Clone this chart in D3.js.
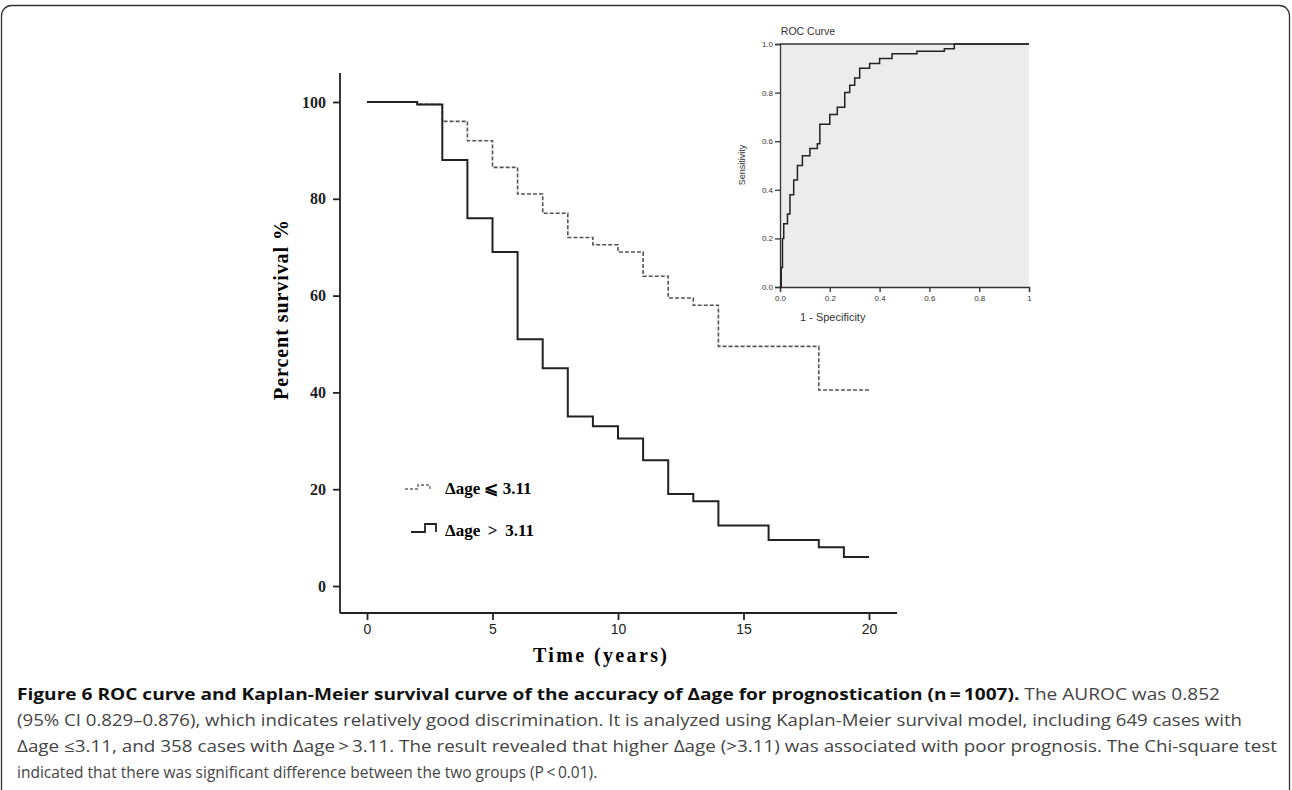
<!DOCTYPE html>
<html><head><meta charset="utf-8">
<script src="https://cdn.jsdelivr.net/npm/d3@7"></script>
<style>body{margin:0;background:#fff}svg{display:block}</style>
</head><body><div id="wrapper"></div>
<script>
// KM data: time (years) and survival %
const kmTimes = [0, 2, 3, 4, 5, 6, 7, 8, 9, 10, 11, 12, 13, 14, 16, 18, 19, 20]
const lowDelta = [100, 99.5, 96, 92, 86.5, 81, 77, 72, 70.5, 69, 64, 59.5, 58, 49.5, 49.5, 40.5, 40.5, 40.5]
const highDelta = [100, 99.5, 88, 76, 69, 51, 45, 35, 33, 30.5, 26, 19, 17.5, 12.5, 9.5, 8, 6, 6]
const kmXTicks = [0, 5, 10, 15, 20]
const kmYTicks = [0, 20, 40, 60, 80, 100]

// ROC data
const rocFpr = [0, 0.005, 0.01, 0.015, 0.03, 0.04, 0.055, 0.07, 0.09, 0.12, 0.15, 0.16, 0.2, 0.23, 0.26, 0.28, 0.3, 0.32, 0.36, 0.4, 0.45, 0.55, 0.66, 0.7, 0.85, 1]
const rocTpr = [0, 0.08, 0.2, 0.26, 0.3, 0.38, 0.44, 0.5, 0.54, 0.57, 0.59, 0.67, 0.71, 0.74, 0.8, 0.83, 0.86, 0.9, 0.92, 0.94, 0.96, 0.97, 0.98, 1.0, 1.0, 1.0]
const rocXTicks = [0, 0.2, 0.4, 0.6, 0.8, 1]
const rocXLabels = ['0.0', '0.2', '0.4', '0.6', '0.8', '1']
const rocYTicks = [0, 0.2, 0.4, 0.6, 0.8, 1]

const captionLines = [
  [['Figure 6 ROC curve and Kaplan-Meier survival curve of the accuracy of \u0394age for prognostication (n\u2009=\u20091007).', true], [' The AUROC was 0.852', false]],
  [['(95% CI 0.829\u20130.876), which indicates relatively good discrimination. It is analyzed using Kaplan-Meier survival model, including 649 cases with', false]],
  [['\u0394age \u22643.11, and 358 cases with \u0394age\u2009>\u20093.11. The result revealed that higher \u0394age (>3.11) was associated with poor prognosis. The Chi-square test', false]],
  [['indicated that there was significant difference between the two groups (P\u2009<\u20090.01).', false]]
]
const captionWidths = [1203, 1225, 1260, null]

const width = 1292, height = 790
const svg = d3.select('#wrapper').append('svg').attr('width', width).attr('height', height)

// frame
svg.append('rect').attr('x', 1.5).attr('y', 5.5).attr('width', 1288).attr('height', 820)
  .attr('rx', 10).attr('fill', 'none').attr('stroke', '#333').attr('stroke-width', 1.3)

// ---- Kaplan-Meier ----
const serif = 'Liberation Serif, Times New Roman, serif'
const x = d3.scaleLinear().domain([0, 20]).range([367, 869])
const y = d3.scaleLinear().domain([0, 100]).range([586, 102])

const xAxis = svg.append('g').attr('transform', 'translate(0,613)')
  .call(d3.axisBottom(x).tickValues(kmXTicks).tickSize(7).tickPadding(4))
xAxis.select('.domain').attr('d', 'M340,0H897')
xAxis.selectAll('text').attr('font-family', 'Liberation Sans, Arial, sans-serif').attr('font-size', 14).attr('fill', '#222')

const yAxis = svg.append('g').attr('transform', 'translate(340,0)')
  .call(d3.axisLeft(y).tickValues(kmYTicks).tickSize(7).tickPadding(7))
yAxis.select('.domain').attr('d', 'M0,73V613')
yAxis.selectAll('text').attr('font-family', serif).attr('font-weight', 'bold').attr('font-size', 16).attr('fill', '#222')
svg.selectAll('.domain, .tick line').attr('stroke', '#222').attr('stroke-width', 1.8)

const line = d3.line().curve(d3.curveStepAfter).x(d => x(d[0])).y(d => y(d[1]))
svg.append('path').datum(kmTimes.map((t, i) => [t, lowDelta[i]]))
  .attr('d', line).attr('fill', 'none').attr('stroke', '#555').attr('stroke-width', 1.6).attr('stroke-dasharray', '4,2')
svg.append('path').datum(kmTimes.map((t, i) => [t, highDelta[i]]))
  .attr('d', line).attr('fill', 'none').attr('stroke', '#222').attr('stroke-width', 2)

svg.append('text').attr('transform', 'translate(288,310) rotate(-90)').attr('text-anchor', 'middle')
  .attr('font-family', serif).attr('font-weight', 'bold').attr('font-size', 20)
  .attr('textLength', 180).attr('lengthAdjust', 'spacing')
  .text('Percent survival   %')
svg.append('text').attr('x', 600).attr('y', 662).attr('text-anchor', 'middle')
  .attr('font-family', serif).attr('font-weight', 'bold').attr('font-size', 20)
  .attr('textLength', 134).attr('lengthAdjust', 'spacing')
  .text('Time   (years)')

// legend
const leg = svg.append('g')
leg.append('path').attr('d', 'M405,489H418V485H430V489').attr('fill', 'none').attr('stroke', '#666').attr('stroke-width', 1.3).attr('stroke-dasharray', '3,2')
leg.append('path').attr('d', 'M411,532H425V524H436V532').attr('fill', 'none').attr('stroke', '#222').attr('stroke-width', 1.8)
leg.append('text').attr('x', 445).attr('y', 494).attr('font-family', serif).attr('font-weight', 'bold').attr('font-size', 17).text('\u0394age \u2A7D 3.11')
leg.append('text').attr('x', 445).attr('y', 536).attr('font-family', serif).attr('font-weight', 'bold').attr('font-size', 17).text('\u0394age \u2009>\u2009 3.11')

// ---- ROC inset ----
const rx = d3.scaleLinear().domain([0, 1]).range([780, 1029])
const ry = d3.scaleLinear().domain([0, 1]).range([287, 44])
const sans = 'Liberation Sans, Arial, sans-serif'
svg.append('rect').attr('x', 780).attr('y', 44).attr('width', 249).attr('height', 243).attr('fill', '#ececec')
svg.append('line').attr('x1', 780).attr('x2', 1029).attr('y1', 44).attr('y2', 44).attr('stroke', '#333').attr('stroke-width', 1.3)
const rxa = svg.append('g').attr('transform', 'translate(0,287)')
  .call(d3.axisBottom(rx).tickValues(rocXTicks).tickFormat((d, i) => rocXLabels[i]).tickSize(5).tickPadding(3))
const rya = svg.append('g').attr('transform', 'translate(780,0)')
  .call(d3.axisLeft(ry).tickValues(rocYTicks).tickFormat(d3.format('.1f')).tickSize(5).tickPadding(2))
;[rxa, rya].forEach(a => {
  a.selectAll('.domain, line').attr('stroke', '#333').attr('stroke-width', 1.3)
  a.selectAll('text').attr('font-family', sans).attr('font-size', 8).attr('fill', '#333')
})
svg.append('path').datum(rocFpr.map((f, i) => [f, rocTpr[i]]))
  .attr('d', d3.line().curve(d3.curveStepAfter).x(d => rx(d[0])).y(d => ry(d[1])))
  .attr('fill', 'none').attr('stroke', '#222').attr('stroke-width', 1.5)
svg.append('text').attr('x', 808).attr('y', 35).attr('text-anchor', 'middle').attr('font-family', sans).attr('font-size', 10.5).attr('fill', '#333').text('ROC Curve')
svg.append('text').attr('x', 800).attr('y', 321).attr('font-family', sans).attr('font-size', 11).attr('fill', '#333').text('1 - Specificity')
svg.append('text').attr('transform', 'translate(745,165) rotate(-90)').attr('text-anchor', 'middle')
  .attr('font-family', sans).attr('font-size', 9).attr('fill', '#333').text('Sensitivity')

// ---- caption ----
const capFont = 'Open Sans, Liberation Sans, sans-serif'
captionLines.forEach((parts, i) => {
  const t = svg.append('text').attr('x', 17).attr('y', 700 + i * 26)
    .attr('font-family', capFont).attr('font-size', 15.5)
  if (captionWidths[i]) t.attr('textLength', captionWidths[i]).attr('lengthAdjust', 'spacingAndGlyphs')
  parts.forEach(([s, b]) => t.append('tspan').attr('font-weight', b ? 'bold' : 'normal').attr('fill', b ? '#111' : '#444').text(s))
})
</script>
</body></html>
